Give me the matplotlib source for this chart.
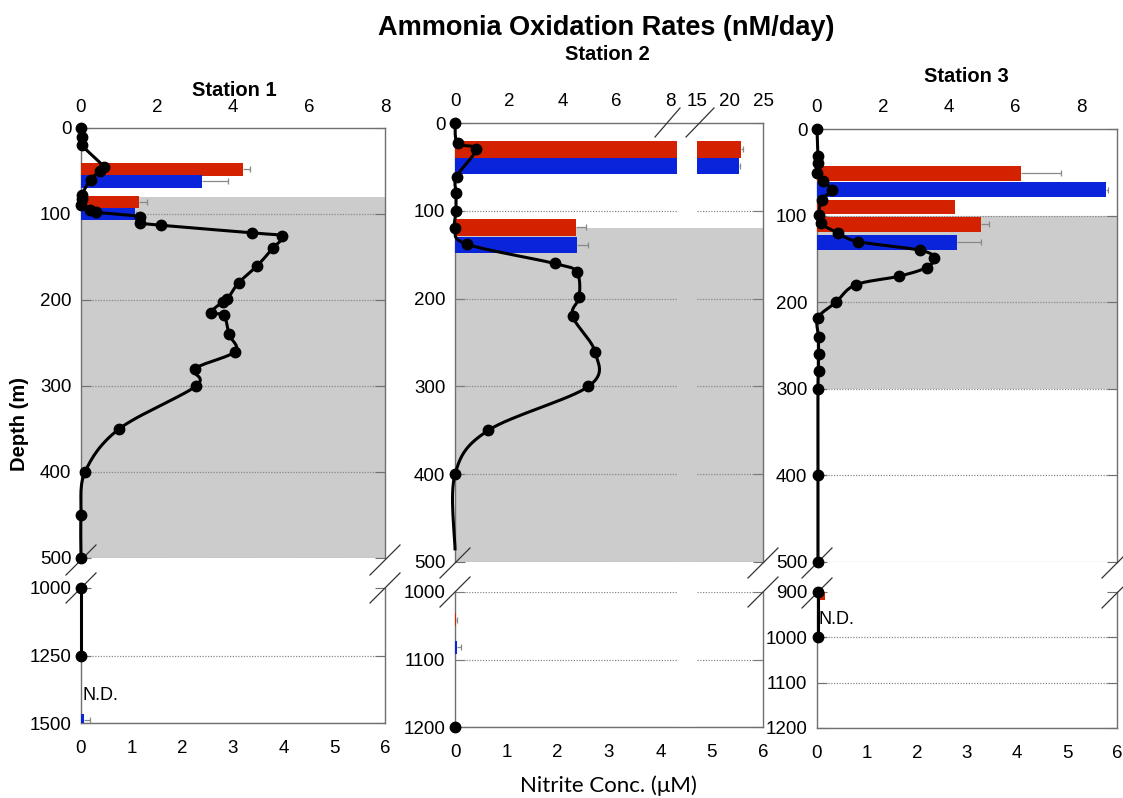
import numpy as np
import matplotlib
matplotlib.use("Agg")
import matplotlib.pyplot as plt
from matplotlib.lines import Line2D

plt.rcParams['font.family'] = ['Liberation Sans', 'DejaVu Sans']

# ---------------- data ----------------
# nitrite profiles (depth m, uM)
st1_depth = [0, 10, 20, 45, 50, 60, 78, 82, 90, 95, 98, 103, 110, 113, 122, 126,
             140, 160, 180, 199, 202, 215, 218, 240, 260, 280, 300, 350, 400, 450, 500]
st1_no2 = [0.0, 0.02, 0.02, 0.45, 0.37, 0.19, 0.01, 0.01, 0.0, 0.18, 0.3, 1.16, 1.16, 1.57,
           3.37, 3.96, 3.78, 3.48, 3.11, 2.89, 2.8, 2.56, 2.82, 2.92, 3.04, 2.25, 2.27,
           0.75, 0.08, 0.0, 0.0]
st1_deep_depth = [1000, 1250]
st1_deep_no2 = [0.0, 0.0]

st2_depth = [0, 23, 30, 61, 80, 100, 120, 138, 160, 170, 198, 220, 261, 300, 350, 400, 485]
st2_no2 = [0.0, 0.05, 0.41, 0.03, 0.02, 0.02, 0.0, 0.23, 1.94, 2.37, 2.42, 2.29, 2.73,
           2.6, 0.65, 0.0, 0.0]
st2_nomarker_last = True   # curve runs on to 485 m without a sample marker
st2_deep_depth = [1200]
st2_deep_no2 = [0.0]

st3_depth = [0, 31, 39, 51, 60, 70, 82, 99, 109, 120, 130, 140, 149, 160, 170, 180,
             200, 218, 240, 260, 280, 300, 400, 500]
st3_no2 = [0.0, 0.02, 0.02, 0.0, 0.11, 0.29, 0.09, 0.04, 0.07, 0.42, 0.82, 2.06, 2.34,
           2.19, 1.64, 0.77, 0.38, 0.02, 0.03, 0.03, 0.03, 0.02, 0.02, 0.02]
st3_deep_depth = [900, 1000]
st3_deep_no2 = [0.02, 0.02]

# ammonia oxidation rates (nM/day): red / blue series
st1_red_depth = [48, 86]
st1_red = [4.26, 1.53]
st1_red_err = [0.2, 0.2]
st1_blue_depth = [62, 100]
st1_blue = [3.18, 1.42]
st1_blue_err = [0.68, 0.03]
st1_deep_blue_depth = [1490]
st1_deep_blue = [0.08]
st1_deep_blue_err = [0.15]

st2_red_depth = [30, 119]
st2_red = [21.7, 4.5]
st2_red_err = [0.2, 0.38]
st2_blue_depth = [49, 139]
st2_blue = [21.3, 4.55]
st2_blue_err = [0.2, 0.4]
st2_deep_red_depth = [1041]
st2_deep_red = [0.05]
st2_deep_red_err = [0.02]
st2_deep_blue_depth = [1082]
st2_deep_blue = [0.08]
st2_deep_blue_err = [0.15]

st3_red_depth = [51, 90, 110]
st3_red = [6.18, 4.17, 4.97]
st3_red_err = [1.19, 0.0, 0.22]
st3_blue_depth = [70, 131]
st3_blue = [8.75, 4.23]
st3_blue_err = [0.05, 0.72]
st3_deep_red_depth = [902]
st3_deep_red = [0.25]
st3_deep_red_err = [0.0]

# anoxic layer (shaded)
st1_shade = (80, 500)
st2_shade = (120, 500)
st3_shade = (100, 300)

RED = '#D42200'
BLUE = '#0A24DC'
GREY = '#CCCCCC'
SPINE = '#707070'
FS = 13.5

W, H = 1123, 798
fig = plt.figure(figsize=(W / 100, H / 100), dpi=100)


def pos(x0, x1, y0, y1):
    return [x0 / W, 1 - y1 / H, (x1 - x0) / W, (y1 - y0) / H]


def smooth(d, v, n=16):
    # Catmull-Rom curve through the points (like a spreadsheet smoothed line)
    P = np.column_stack([v, d]).astype(float)
    P = np.vstack([P[0], P, P[-1]])
    out = []
    for i in range(1, len(P) - 2):
        p0, p1, p2, p3 = P[i - 1], P[i], P[i + 1], P[i + 2]
        t = np.linspace(0, 1, n, endpoint=False)[:, None]
        c = 0.5 * ((2 * p1) + (-p0 + p2) * t + (2 * p0 - 5 * p1 + 4 * p2 - p3) * t ** 2
                   + (-p0 + 3 * p1 - 3 * p2 + p3) * t ** 3)
        out.append(c)
    out.append(P[-2][None, :])
    c = np.vstack(out)
    return c[:, 0], c[:, 1]


def base_axes(p, ylim, yticks, shade=None, grid=True, lower=False, xlim=(0, 6)):
    ax = fig.add_axes(p, zorder=0)
    ax.set_ylim(*ylim)
    ax.set_xlim(*xlim)
    ax.set_yticks(yticks)
    if shade is not None:
        ax.axhspan(shade[0], shade[1], color=GREY, lw=0, zorder=0)
    if grid:
        for y in yticks:
            if y != ylim[1]:
                ax.axhline(y, color='#888888', lw=0.9, ls=(0, (1, 1.2)), zorder=1.5)
    ax.tick_params(axis='y', which='both', left=True, right=True, direction='in',
                   length=7, color=SPINE, labelsize=FS, pad=7)
    for s in ax.spines.values():
        s.set_color(SPINE)
        s.set_linewidth(1.0)
    if lower:
        ax.spines['top'].set_visible(False)
        ax.set_xticks(range(0, 7))
        ax.tick_params(axis='x', length=0, labelsize=FS, pad=12)
    else:
        ax.spines['bottom'].set_visible(False)
        ax.set_xticks([])
    return ax


def overlay(p, ylim, xlim, z):
    ax = fig.add_axes(p, zorder=z)
    ax.patch.set_alpha(0)
    ax.set_ylim(*ylim)
    ax.set_xlim(*xlim)
    for s in ax.spines.values():
        s.set_visible(False)
    ax.set_xticks([])
    ax.set_yticks([])
    return ax


def bars(ax, depth, vals, errs, color, h):
    ax.barh(depth, vals, height=h, color=color, lw=0, zorder=2)
    v = np.array(vals)
    e = np.array(errs)
    m = e > 0
    if m.any():
        d = np.array(depth)[m]
        ax.errorbar(v[m], d, xerr=[np.zeros(m.sum()), e[m]], fmt='none',
                    ecolor='#888888', elinewidth=0.9, capsize=0, zorder=3)
        ax.plot(v[m] + e[m], d, '|', color='#888888', ms=5, mew=0.9, zorder=3)


def profile(ax, depth, vals, marker_n=None):
    xs, ys = smooth(depth, vals)
    ax.plot(xs, ys, color='black', lw=2.2, clip_on=False, zorder=4)
    n = len(depth) if marker_n is None else marker_n
    ax.plot(vals[:n], depth[:n], 'o', color='black', ms=7.5, clip_on=False, zorder=5)


def top_ticks(ax, ticks):
    ax.set_xticks(ticks)
    ax.xaxis.set_ticks_position('top')
    ax.tick_params(axis='x', length=0, labelsize=FS, pad=9)


def brk(x, y, d=15):
    fig.add_artist(Line2D([(x - d) / W, (x + d) / W], [1 - (y + d) / H, 1 - (y - d) / H],
                          transform=fig.transFigure, color='#333333', lw=0.9))


# ---------------- Station 1 ----------------
x0, x1 = 81, 385
pu = pos(x0, x1, 128, 558)
pl = pos(x0, x1, 588, 723)
a = base_axes(pu, (500, 0), [0, 100, 200, 300, 400, 500], shade=st1_shade)
r = overlay(pu, (500, 0), (0, 8), 1)
top_ticks(r, [0, 2, 4, 6, 8])
bars(r, st1_red_depth, st1_red, st1_red_err, RED, 15)
bars(r, st1_blue_depth, st1_blue, st1_blue_err, BLUE, 15)
n = overlay(pu, (500, 0), (0, 6), 2)
profile(n, st1_depth, st1_no2)

a = base_axes(pl, (1500, 1000), [1000, 1250, 1500], lower=True)
r = overlay(pl, (1500, 1000), (0, 8), 1)
bars(r, st1_deep_blue_depth, st1_deep_blue, st1_deep_blue_err, BLUE, 48)
n = overlay(pl, (1500, 1000), (0, 6), 2)
profile(n, st1_deep_depth, st1_deep_no2)
n.text(0.02, 1400, 'N.D.', fontsize=13, va='center', ha='left')
for xx in (x0, x1):
    brk(xx, 560)
    brk(xx, 588)

# ---------------- Station 2 ----------------
x0, x1 = 455, 763
xa, xb = 677, 697   # axis break for the rate scale
pu = pos(x0, x1, 123, 562)
pl = pos(x0, x1, 592, 727)
a = base_axes(pu, (500, 0), [0, 100, 200, 300, 400, 500], shade=st2_shade, grid=False)
ra = overlay(pos(x0, xa, 123, 562), (500, 0), (0, 8.25), 1)
rb = overlay(pos(xb, x1, 123, 562), (500, 0), (15, 25), 1)
top_ticks(ra, [0, 2, 4, 6, 8])
top_ticks(rb, [15, 20, 25])
for rr in (ra, rb):
    for y in [100, 200, 300, 400, 500]:
        rr.axhline(y, color='#888888', lw=0.9, ls=(0, (1, 1.2)), zorder=1)
    bars(rr, st2_red_depth, st2_red, st2_red_err, RED, 19)
    bars(rr, st2_blue_depth, st2_blue, st2_blue_err, BLUE, 19)
n = overlay(pu, (500, 0), (0, 6), 2)
profile(n, st2_depth, st2_no2, marker_n=len(st2_depth) - 1 if st2_nomarker_last else None)

a = base_axes(pl, (1200, 1000), [1000, 1100, 1200], grid=False, lower=True)
ra = overlay(pos(x0, xa, 592, 727), (1200, 1000), (0, 8.25), 1)
rb = overlay(pos(xb, x1, 592, 727), (1200, 1000), (15, 25), 1)
for rr in (ra, rb):
    for y in [1000, 1100, 1200]:
        rr.axhline(y, color='#888888', lw=0.9, ls=(0, (1, 1.2)), zorder=1)
    bars(rr, st2_deep_red_depth, st2_deep_red, st2_deep_red_err, RED, 20)
    bars(rr, st2_deep_blue_depth, st2_deep_blue, st2_deep_blue_err, BLUE, 20)
n = overlay(pl, (1200, 1000), (0, 6), 2)
profile(n, st2_deep_depth, st2_deep_no2)
for xx in (x0, x1):
    brk(xx, 563)
    brk(xx, 592)
fig.add_artist(Line2D([655 / W, 680 / W], [1 - 137 / H, 1 - 108 / H],
                      transform=fig.transFigure, color='#333333', lw=0.9))
fig.add_artist(Line2D([686 / W, 714 / W], [1 - 137 / H, 1 - 108 / H],
                      transform=fig.transFigure, color='#333333', lw=0.9))

# ---------------- Station 3 ----------------
x0, x1 = 817, 1117
pu = pos(x0, x1, 129, 562)
pl = pos(x0, x1, 592, 728)
a = base_axes(pu, (500, 0), [0, 100, 200, 300, 400, 500], shade=st3_shade)
r = overlay(pu, (500, 0), (0, 9.07), 1)
top_ticks(r, [0, 2, 4, 6, 8])
bars(r, st3_red_depth, st3_red, st3_red_err, RED, 17)
bars(r, st3_blue_depth, st3_blue, st3_blue_err, BLUE, 17)
n = overlay(pu, (500, 0), (0, 6), 2)
profile(n, st3_depth, st3_no2)

a = base_axes(pl, (1200, 900), [900, 1000, 1100, 1200], lower=True)
r = overlay(pl, (1200, 900), (0, 9.07), 1)
bars(r, st3_deep_red_depth, st3_deep_red, st3_deep_red_err, RED, 30)
n = overlay(pl, (1200, 900), (0, 6), 2)
profile(n, st3_deep_depth, st3_deep_no2)
n.text(0.02, 960, 'N.D.', fontsize=13, va='center', ha='left')
for xx in (x0, x1):
    brk(xx, 563)
    brk(xx, 593)

# ---------------- titles ----------------
fig.text(606 / W, 1 - 28 / H, 'Ammonia Oxidation Rates (nM/day)', fontsize=19.5,
         fontweight='bold', ha='center', va='center')
fig.text(234 / W, 1 - 90 / H, 'Station 1', fontsize=14.5, fontweight='bold',
         ha='center', va='center')
fig.text(607 / W, 1 - 55 / H, 'Station 2', fontsize=14.5, fontweight='bold',
         ha='center', va='center')
fig.text(966 / W, 1 - 77 / H, 'Station 3', fontsize=14.5, fontweight='bold',
         ha='center', va='center')
fig.text(20 / W, 1 - 424 / H, 'Depth (m)', fontsize=14.5, fontweight='bold',
         rotation=90, ha='center', va='center')
fig.text(608 / W, 1 - 786 / H, 'Nitrite Conc. (\u03bcM)', fontsize=16,
         ha='center', va='center', family=['Lato', 'DejaVu Sans'])

fig.savefig('out.png', dpi=100)
